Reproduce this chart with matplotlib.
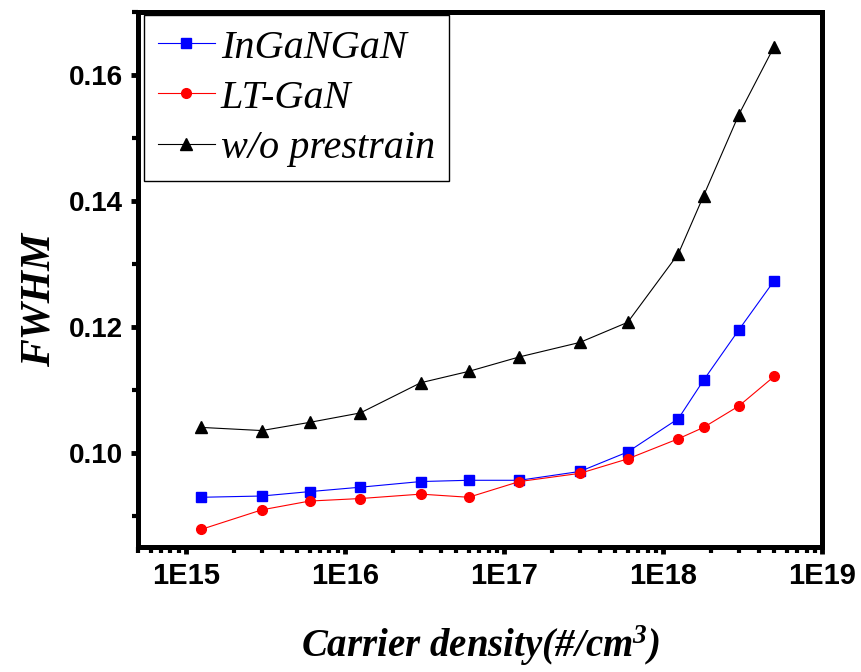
import matplotlib
matplotlib.use('Agg')
import matplotlib.pyplot as plt
from matplotlib.ticker import LogLocator, FixedLocator, NullFormatter

# Datos
densidad = [1.25e15, 3e15, 6e15, 1.25e16, 3e16, 6e16, 1.25e17, 3e17, 6e17,
            1.25e18, 1.8e18, 3e18, 5e18]
fwhm_ingan = [0.0929, 0.0931, 0.0938, 0.0945, 0.0954, 0.0956, 0.0956, 0.0970,
              0.1001, 0.1054, 0.1115, 0.1195, 0.1273]
fwhm_ltgan = [0.0878, 0.0909, 0.0923, 0.0927, 0.0934, 0.0929, 0.0954, 0.0967,
              0.0990, 0.1022, 0.1040, 0.1074, 0.1121]
fwhm_sin = [0.1040, 0.1035, 0.1048, 0.1063, 0.1111, 0.1129, 0.1152, 0.1175,
            0.1207, 0.1316, 0.1408, 0.1537, 0.1645]
etiquetas = ['InGaNGaN', 'LT-GaN', 'w/o prestrain']
ticks_x = [1e15, 1e16, 1e17, 1e18, 1e19]
etiquetas_x = ['1E15', '1E16', '1E17', '1E18', '1E19']
ticks_y = [0.10, 0.12, 0.14, 0.16]
etiquetas_y = ['0.10', '0.12', '0.14', '0.16']

# Superindice con la misma fuente serif negrita cursiva
plt.rcParams['mathtext.fontset'] = 'custom'
plt.rcParams['mathtext.rm'] = 'Liberation Serif:bold:italic'
plt.rcParams['mathtext.it'] = 'Liberation Serif:bold:italic'
plt.rcParams['mathtext.bf'] = 'Liberation Serif:bold:italic'

fig = plt.figure(figsize=(8.62, 6.72), dpi=100)
ax = fig.add_axes([138 / 862, 1 - 547 / 672, (822 - 138) / 862, (547 - 12) / 672])

ax.plot(densidad, fwhm_ingan, color='#0000ff', marker='s', markersize=7, lw=0.8,
        label=etiquetas[0])
ax.plot(densidad, fwhm_ltgan, color='#ff0000', marker='o', markersize=7, lw=0.8,
        label=etiquetas[1])
ax.plot(densidad, fwhm_sin, color='black', marker='^', markersize=8.5, lw=0.8,
        label=etiquetas[2])

# Eje x logaritmico
ax.set_xscale('log')
ax.xaxis.set_minor_locator(LogLocator(base=10, subs=range(2, 10), numticks=20))
ax.xaxis.set_minor_formatter(NullFormatter())
ax.set_xticks(ticks_x)
ax.set_xticklabels(etiquetas_x)
ax.set_xlim(5e14, 1e19)

ax.set_ylim(0.085, 0.17)
ax.yaxis.set_major_locator(FixedLocator(ticks_y))
ax.yaxis.set_minor_locator(FixedLocator([0.09, 0.11, 0.13, 0.15, 0.17]))
ax.set_yticklabels(etiquetas_y)

for s in ax.spines.values():
    s.set_linewidth(3.6)
ax.tick_params(which='major', direction='out', length=5, width=3.5, pad=6)
ax.tick_params(which='minor', direction='out', length=4, width=3)
for lbl in ax.get_xticklabels():
    lbl.set_fontfamily('Liberation Sans')
    lbl.set_fontweight('bold')
    lbl.set_fontsize(21)
for lbl in ax.get_yticklabels():
    lbl.set_fontfamily('Liberation Sans')
    lbl.set_fontweight('bold')
    lbl.set_fontsize(20)

ax.set_xlabel(r'Carrier density(#/cm$^{3}$)', fontfamily='Liberation Serif', fontweight='bold',
              fontstyle='italic', fontsize=28, labelpad=24)
fig.text(40 / 862, 1 - 300 / 672, 'FWHM', rotation=90, ha='center', va='center',
         fontfamily='Liberation Serif', fontweight='bold', fontstyle='italic', fontsize=30)

leg = ax.legend(loc='upper left', bbox_to_anchor=(0.009, 0.994), borderaxespad=0,
                prop={'family': 'Liberation Serif', 'style': 'italic', 'size': 29},
                handlelength=1.4, handletextpad=0.15, labelspacing=0.32,
                borderpad=0.35, fancybox=False, framealpha=1)
leg.get_frame().set_edgecolor('black')
leg.get_frame().set_linewidth(1)

fig.savefig('out.png', dpi=100)
